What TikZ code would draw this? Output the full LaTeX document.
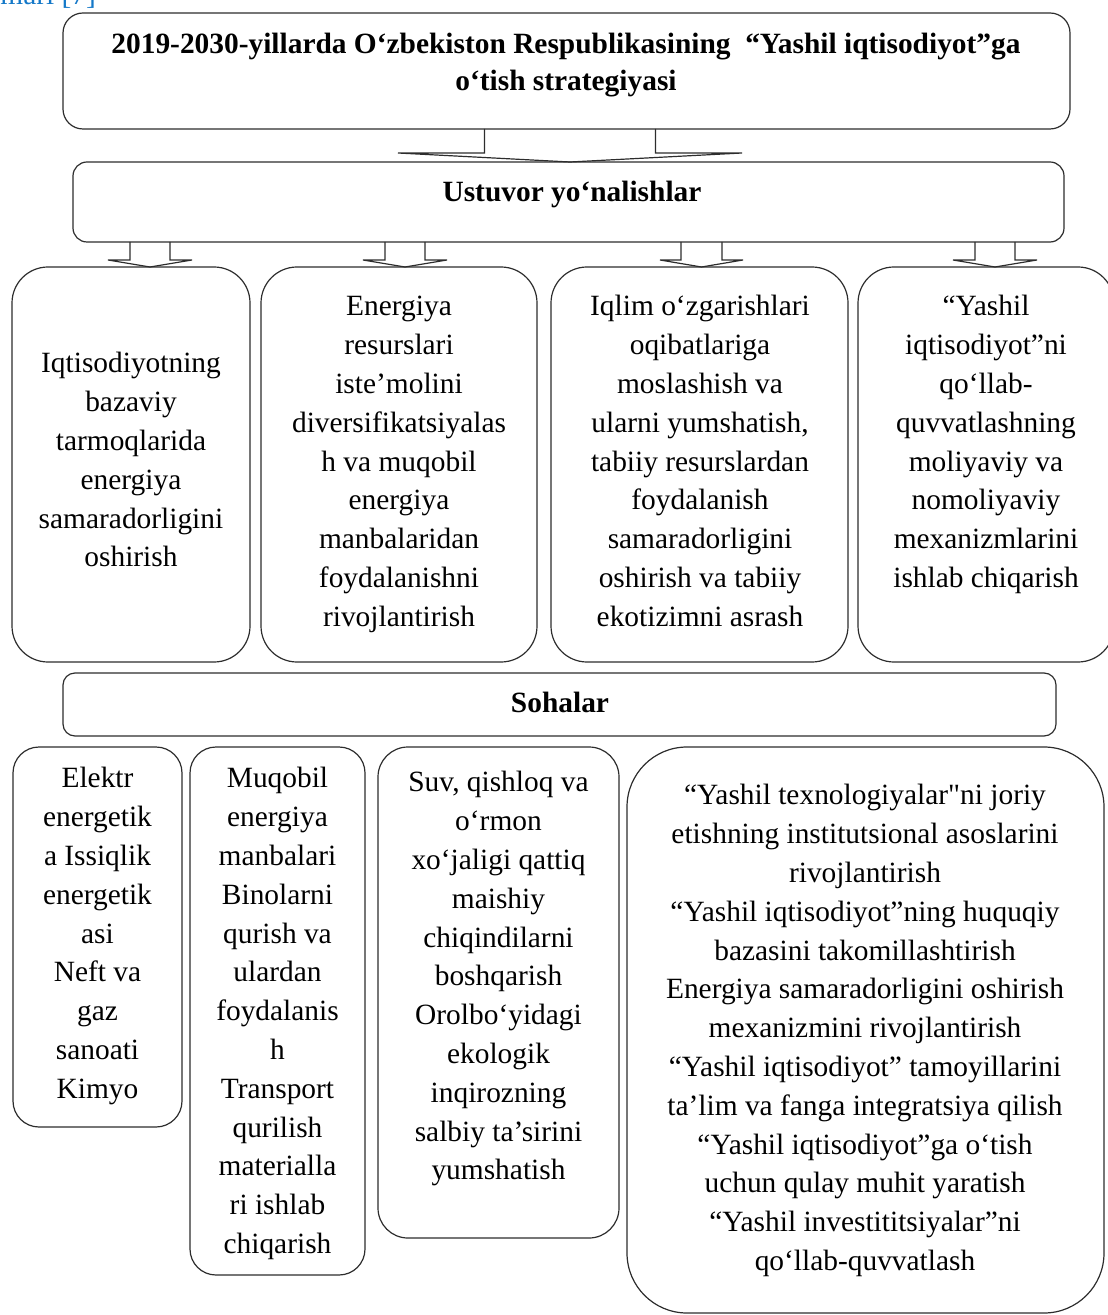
\documentclass[tikz,border=0pt]{standalone}
\usepackage{fontspec}
\setmainfont{Liberation Serif}
\usetikzlibrary{calc,fit}
\definecolor{linec}{RGB}{45,45,45}
\definecolor{refblue}{RGB}{20,120,200}
\newcommand\straightquote{{\addfontfeatures{Ligatures=TeXOff}"}}
\tikzset{
  box/.style={draw=linec, line width=0.6pt, inner sep=0pt, outer sep=0pt},
  txt/.style={inner sep=0pt, outer sep=0pt, align=center, anchor=north, font=\fontsize{14.7}{19.4}\selectfont},
  head/.style={inner sep=0pt, outer sep=0pt, align=center, font=\bfseries\fontsize{14.7}{18.5}\selectfont},
  barrow/.style={draw=linec, line width=0.6pt, line join=miter},
}
% #1 source node, #2 target node, #3 centre x, #4 shaft half width, #5 head half width, #6 head length
\newcommand\blockarr[6]{%
  \draw[barrow] (#3-#4,0 |- #1.south) -- ($(#3-#4,0 |- #2.north)+(0,-#6)$)
    -- ($(#3-#5,0 |- #2.north)+(0,-#6)$) -- (#3,0 |- #2.north)
    -- ($(#3+#5,0 |- #2.north)+(0,-#6)$) -- ($(#3+#4,0 |- #2.north)+(0,-#6)$)
    -- (#3+#4,0 |- #1.south);
}
\begin{document}
\begin{tikzpicture}[x=0.5pt,y=-0.5pt]
\useasboundingbox (0,0) rectangle (1107,1315);

% cut-off reference text at the top
\node[anchor=base west, inner sep=0pt, text=refblue, font=\fontsize{14.7}{17}\selectfont] (ref) at (0,5) {mari [7]};

% title
\node[box, rounded corners=10pt, fit={(63,13) (1070,129)}] (top) {};
\node[head, anchor=north] (toptxt) at (566,27.6) {\strut 2019-2030-yillarda O‘zbekiston Respublikasining\ \ “Yashil iqtisodiyot”ga\\o‘tish strategiyasi};

% priorities
\node[box, rounded corners=7pt, fit={(73,162) (1064,242)}] (ust) {};
\node[head, anchor=base] (usttxt) at (572,202) {Ustuvor yo‘nalishlar};

\node[box, rounded corners=18pt, fit={(12,267) (250,662)}] (b1) {};
\node[box, rounded corners=18pt, fit={(261,267) (537,662)}] (b2) {};
\node[box, rounded corners=18pt, fit={(551,267) (848,662)}] (b3) {};
\node[box, rounded corners=18pt, fit={(858,267) (1114,662)}] (b4) {};

\node[txt] (b1t) at (131,345.8) {\strut Iqtisodiyotning\\bazaviy\\tarmoqlarida\\energiya\\samaradorligini\\oshirish};
\node[txt] (b2t) at (399,288.8) {\strut Energiya\\resurslari\\iste’molini\\diversifikatsiyalas\\h va muqobil\\energiya\\manbalaridan\\foydalanishni\\rivojlantirish};
\node[txt] (b3t) at (700,288.8) {\strut Iqlim o‘zgarishlari\\oqibatlariga\\moslashish va\\ularni yumshatish,\\tabiiy resurslardan\\foydalanish\\samaradorligini\\oshirish va tabiiy\\ekotizimni asrash};
\node[txt] (b4t) at (986,288.8) {\strut “Yashil\\iqtisodiyot”ni\\qo‘llab-\\quvvatlashning\\moliyaviy va\\nomoliyaviy\\mexanizmlarini\\ishlab chiqarish};

% block arrows
\blockarr{top}{ust}{570}{85.5}{172}{9}
\blockarr{ust}{b1}{150}{20}{42}{7}
\blockarr{ust}{b2}{405}{20}{42}{7}
\blockarr{ust}{b3}{701.5}{20.5}{41.5}{7}
\blockarr{ust}{b4}{995}{20}{42}{7}

% sectors
\node[box, rounded corners=6pt, fit={(63,673) (1056,736)}] (soh) {};
\node[head, anchor=base] (sohtxt) at (560,712) {Sohalar};

\node[box, rounded corners=13pt, fit={(13,747) (182,1127)}] (c1) {};
\node[box, rounded corners=13pt, fit={(190,747) (365,1275)}] (c2) {};
\node[box, rounded corners=15pt, fit={(378,747) (619,1238)}] (c3) {};
\node[box, rounded corners=30pt, fit={(627,747) (1104,1313)}] (c4) {};

\node[txt] (c1t) at (97.5,760.8) {\strut Elektr\\energetik\\a Issiqlik\\energetik\\asi\\Neft va\\gaz\\sanoati\\Kimyo};
\node[txt] (c2t) at (277.5,760.8) {\strut Muqobil\\energiya\\manbalari\\Binolarni\\qurish va\\ulardan\\foydalanis\\h\\Transport\\qurilish\\materialla\\ri ishlab\\chiqarish};
\node[txt] (c3t) at (498.5,764.8) {\strut Suv, qishloq va\\o‘rmon\\xo‘jaligi qattiq\\maishiy\\chiqindilarni\\boshqarish\\Orolbo‘yidagi\\ekologik\\inqirozning\\salbiy ta’sirini\\yumshatish};
\node[txt] (c4t) at (865,777.8) {\strut “Yashil texnologiyalar\straightquote ni joriy\\etishning institutsional asoslarini\\rivojlantirish\\“Yashil iqtisodiyot”ning huquqiy\\bazasini takomillashtirish\\Energiya samaradorligini oshirish\\mexanizmini rivojlantirish\\“Yashil iqtisodiyot” tamoyillarini\\ta’lim va fanga integratsiya qilish\\“Yashil iqtisodiyot”ga o‘tish\\uchun qulay muhit yaratish\\“Yashil investititsiyalar”ni\\qo‘llab-quvvatlash};
\end{tikzpicture}
\end{document}
